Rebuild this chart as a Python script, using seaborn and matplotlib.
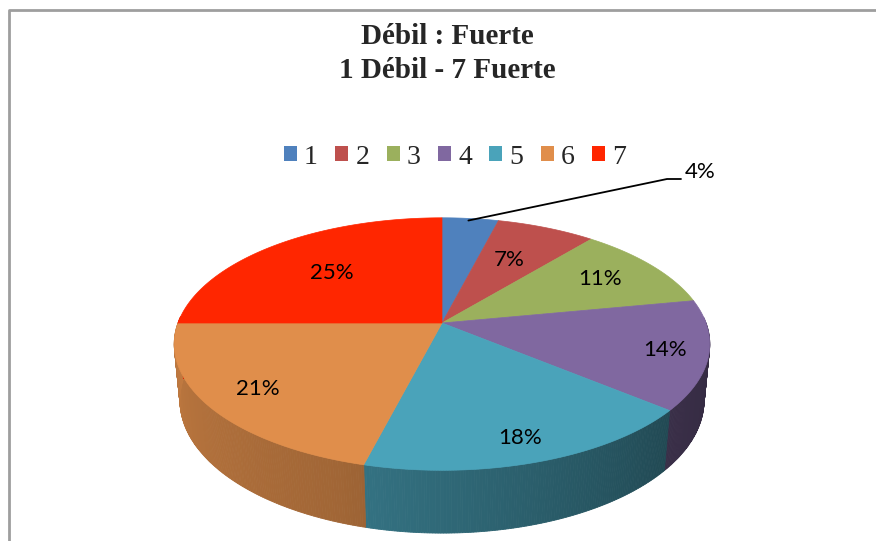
import numpy as np
import matplotlib
matplotlib.use("Agg")
import matplotlib.pyplot as plt
from matplotlib.patches import Polygon, Patch
from matplotlib.lines import Line2D
import seaborn as sns

# ---- data ----
categories = ["1", "2", "3", "4", "5", "6", "7"]
values = [4, 7, 11, 14, 18, 21, 25]
labels = ["4%", "7%", "11%", "14%", "18%", "21%", "25%"]
title_lines = ["Débil : Fuerte", "1 Débil - 7 Fuerte"]

top_colors = ["#4F81BD", "#BE504D", "#9BB05D", "#8068A0", "#4AA3BA", "#E08E4B", "#FF2600"]

sns.set_theme(style="white")
plt.rcParams["font.family"] = ["Lato", "DejaVu Sans"]
palette = sns.color_palette(top_colors)

W, Hpx = 876, 541
fig = plt.figure(figsize=(W / 100, Hpx / 100), dpi=100)
ax = fig.add_axes([0, 0, 1, 1])
ax.set_xlim(0, W)
ax.set_ylim(Hpx, 0)
ax.axis("off")

# ---- perspective projection of a 3D disc ----
E = np.deg2rad(27.7)
D = 5.31
F = 1402.0
CX, CY = 442.0, 323.0
THICK = 0.243


def proj(x, y, z):
    yc = y * np.sin(E) + z * np.cos(E)
    d = D + y * np.cos(E) - z * np.sin(E)
    return CX + x * F / d, CY - yc * F / d


fr = np.array(values, dtype=float) / np.sum(values)
cum = np.concatenate([[0], np.cumsum(fr)])
a_start = 90 - 360 * cum[:-1]
a_end = 90 - 360 * cum[1:]


def side_factor(a):
    a = np.mod(a, 360)
    return np.interp(a, [180, 250, 320, 360], [0.86, 0.72, 0.45, 0.40])


# side walls
for i in range(len(values)):
    angs = np.linspace(a_start[i], a_end[i], max(int(abs(a_start[i] - a_end[i]) * 2), 4))
    base = np.array(palette[i])
    for k in range(len(angs) - 1):
        t0, t1 = np.deg2rad(angs[k]), np.deg2rad(angs[k + 1])
        tm = 0.5 * (angs[k] + angs[k + 1])
        if np.sin(np.deg2rad(tm)) > 0.05:
            continue
        p1 = proj(np.cos(t0), np.sin(t0), 0)
        p2 = proj(np.cos(t1), np.sin(t1), 0)
        p3 = proj(np.cos(t1), np.sin(t1), -THICK)
        p4 = proj(np.cos(t0), np.sin(t0), -THICK)
        col = np.clip(base * side_factor(tm), 0, 1)
        ax.add_patch(Polygon([p1, p2, p3, p4], closed=True, facecolor=col,
                             edgecolor=col, linewidth=0.6, zorder=1))

# top faces
for i in range(len(values)):
    angs = np.deg2rad(np.linspace(a_start[i], a_end[i], 200))
    pts = [proj(0, 0, 0)] + [proj(np.cos(t), np.sin(t), 0) for t in angs]
    ax.add_patch(Polygon(pts, closed=True, facecolor=palette[i],
                         edgecolor=palette[i], linewidth=0.5, zorder=2))

# percentage labels
label_r = [None, 0.63, 0.75, 0.85, 0.85, 0.8, 0.62]
for i in range(1, len(values)):
    am = np.deg2rad(0.5 * (a_start[i] + a_end[i]))
    r = label_r[i]
    x, y = proj(r * np.cos(am), r * np.sin(am), 0)
    ax.text(x - 2, y, labels[i], ha="center", va="center", fontsize=16,
            color="black", zorder=5)

# leader label for first slice
am = np.deg2rad(0.5 * (a_start[0] + a_end[0]))
x0, y0 = proj(np.cos(am), np.sin(am), 0)
ax.add_line(Line2D([x0 - 2, 667, 681], [y0 + 2, 179, 179], color="black", lw=1.3, zorder=6))
ax.text(685, 172, labels[0], ha="left", va="center", fontsize=16, color="black", zorder=6)

# title
ax.text(447, 36, title_lines[0], ha="center", va="center", fontsize=21,
        fontweight="bold", family=["Liberation Serif", "DejaVu Serif"])
ax.text(447, 70, title_lines[1], ha="center", va="center", fontsize=21,
        fontweight="bold", family=["Liberation Serif", "DejaVu Serif"])

# legend
handles = [Patch(facecolor=palette[i], edgecolor="none", label=categories[i])
           for i in range(len(categories))]
fig.legend(handles=handles, loc="center", bbox_to_anchor=(455 / W, 1 - 157 / Hpx),
           ncol=7, frameon=False, prop={"family": "Liberation Serif", "size": 20},
           handlelength=0.47, handleheight=0.47, handletextpad=0.25,
           columnspacing=0.63, borderpad=0, borderaxespad=0)

# outer frame
fig.add_artist(Line2D([9 / W, 9 / W, 1.0], [0.0, 1 - 10 / Hpx, 1 - 10 / Hpx],
                      transform=fig.transFigure, color="#9E9E9E", lw=2))

fig.savefig("out.png", dpi=100)
